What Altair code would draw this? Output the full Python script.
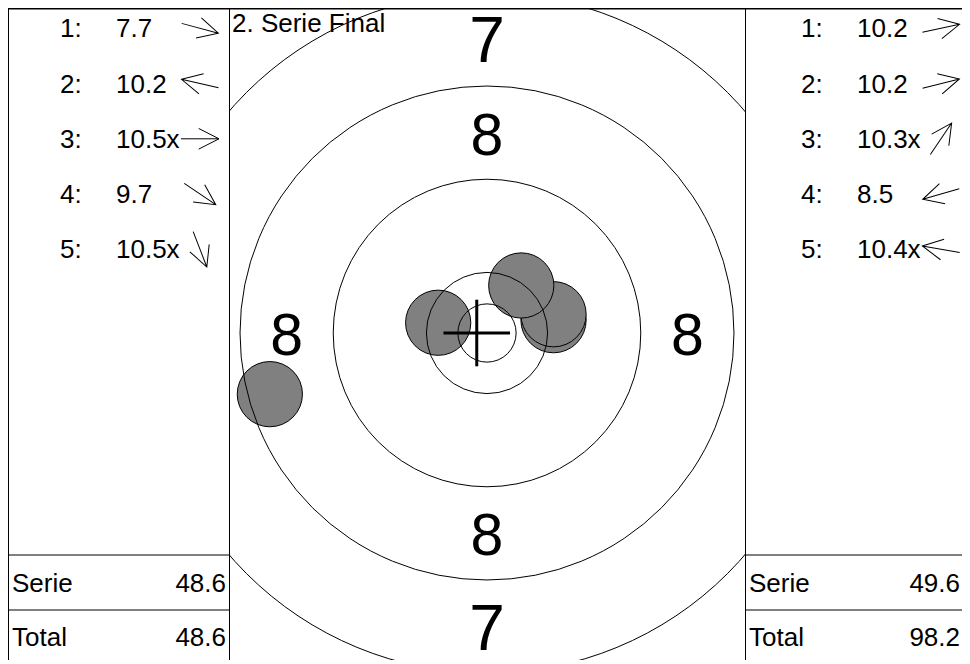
import altair as alt
import pandas as pd

FONT = "Liberation Sans"

# ---------------- data ----------------
shot_no = [1, 2, 3, 4, 5]
s1_scores = ["7.7", "10.2", "10.5x", "9.7", "10.5x"]
s1_dir = [15, 193, 0, 34, 69]           # direction of each shot, degrees clockwise from right
s2_scores = ["10.2", "10.2", "10.3x", "8.5", "10.4x"]
s2_dir = [348, 346, 304, 164, 190]
sum_names = ["Serie", "Total"]
s1_sums = ["48.6", "48.6"]
s2_sums = ["49.6", "98.2"]
# series 2 hits on the target, mm from centre (x right, y up)
s2_x_mm = [5.71, 5.71, 2.94, -18.64, -4.19]
s2_y_mm = [1.10, 1.61, 4.08, -5.25, 0.88]
ring_r_mm = [2.5, 5.2, 13.2, 21.2, 29.2, 37.2]
label_rings = ["8", "7"]
label_r_mm = [17.2, 25.2]
cross_x_mm = [-0.88]
cross_y_mm = [0.0]
title_text = ["2. Serie Final"]
caliber_mm = 5.6

# ---------------- layout ----------------
H = 652
WL, WT, WR = 222, 515, 217
PX = 11.65          # px per mm
CX, CY = 257, 325   # target centre inside the target view (px)
FS = 26
ARROW = "M-1,0L1,0M-0.07,-0.545L1,0L-0.07,0.545"


def panel(scores, dirs, sums, width, lab_x, val_x, arr_x, sum_x, vlines):
    rows = pd.DataFrame({"shot": shot_no, "score": scores, "dir": dirs})
    rows["lab"] = [f"{n}:" for n in shot_no]
    yrow = alt.Y("shot:O", axis=None,
                 scale=alt.Scale(type="point", domain=shot_no, range=[29.3, 250.3], padding=0))
    base = alt.Chart(rows)
    txt = dict(font=FONT, fontSize=FS, color="black", baseline="alphabetic")
    labs = base.mark_text(align="left", **txt).encode(x=alt.value(lab_x), y=yrow, text="lab:N")
    vals = base.mark_text(align="left", **txt).encode(x=alt.value(val_x), y=yrow, text="score:N")
    arrows = base.mark_point(shape=ARROW, filled=False, color="black", strokeWidth=1,
                             opacity=1, size=1444, yOffset=-9, clip=True).encode(
        x=alt.value(arr_x), y=yrow, angle=alt.Angle("dir:Q", scale=None))

    sdf = pd.DataFrame({"name": sum_names, "value": sums})
    ysum = alt.Y("name:N", axis=None,
                 scale=alt.Scale(type="point", domain=sum_names, range=[583.7, 638], padding=0))
    sbase = alt.Chart(sdf)
    snames = sbase.mark_text(align="left", **txt).encode(x=alt.value(4), y=ysum, text="name:N")
    svals = sbase.mark_text(align="right", **txt).encode(x=alt.value(sum_x), y=ysum, text="value:N")

    one = alt.Chart(pd.DataFrame({"k": [0]}))
    lines = []
    for xv in vlines:
        lines.append(one.mark_rule(color="black", strokeWidth=1, clip=True).encode(
            x=alt.value(xv), y=alt.value(0), y2=alt.value(H)))
    lines.append(one.mark_rule(color="black", strokeWidth=1.5, clip=True).encode(
        x=alt.value(0), x2=alt.value(width), y=alt.value(0.75)))
    for yv in [547, 602]:
        lines.append(one.mark_rule(color="black", strokeWidth=1, clip=True).encode(
            x=alt.value(0), x2=alt.value(width), y=alt.value(yv)))

    return alt.layer(*lines, labs, vals, arrows, snames, svals).resolve_scale(
        y="independent").properties(width=width, height=H)


left = panel(s1_scores, s1_dir, s1_sums, WL, 52, 108, 192, 218, [0.5, WL - 0.5])
right = panel(s2_scores, s2_dir, s2_sums, WR, 56, 112, 196, 215, [0.5])

# ---------------- target ----------------
xs = alt.Scale(domain=[-CX / PX, (WT - CX) / PX], nice=False, zero=False)
ys = alt.Scale(domain=[-(H - CY) / PX, CY / PX], nice=False, zero=False)

shots_df = pd.DataFrame({"shot": shot_no, "x": s2_x_mm, "y": s2_y_mm})
shots = alt.Chart(shots_df).transform_calculate(
    sz=f"pow({caliber_mm}*{PX}, 2)"
).mark_point(shape="circle", filled=True, color="#808080", stroke="black",
             strokeWidth=1, opacity=1, clip=True).encode(
    x=alt.X("x:Q", scale=xs, axis=None),
    y=alt.Y("y:Q", scale=ys, axis=None),
    size=alt.Size("sz:Q", scale=None, legend=None),
)

rings = alt.Chart(pd.DataFrame({"r": ring_r_mm})).transform_calculate(
    cx="0", cy="0", sz=f"pow(2*datum.r*{PX}, 2)"
).mark_point(shape="circle", filled=False, color="black", strokeWidth=1,
             opacity=1, clip=True).encode(
    x=alt.X("cx:Q", scale=xs, axis=None),
    y=alt.Y("cy:Q", scale=ys, axis=None),
    size=alt.Size("sz:Q", scale=None, legend=None),
)

lab_rows = []
for v, r in zip(label_rings, label_r_mm):
    for ux, uy in [(0, 1), (1, 0), (0, -1), (-1, 0)]:
        lab_rows.append({"ring": v, "x": ux * r, "y": uy * r})
ring_labels = alt.Chart(pd.DataFrame(lab_rows)).mark_text(
    font=FONT, align="center", baseline="middle", dy=4, color="black", clip=True
).encode(
    x=alt.X("x:Q", scale=xs, axis=None),
    y=alt.Y("y:Q", scale=ys, axis=None),
    text="ring:N",
    size=alt.condition("datum.ring == '7'", alt.value(64), alt.value(59)),
)

L = 33.3 / PX
cross_df = pd.DataFrame({"mx": cross_x_mm, "my": cross_y_mm})
cross_h = alt.Chart(cross_df).transform_calculate(
    xa=f"datum.mx - {L}", xb=f"datum.mx + {L}"
).mark_rule(color="black", strokeWidth=3, clip=True).encode(
    x=alt.X("xa:Q", scale=xs, axis=None), x2="xb:Q",
    y=alt.Y("my:Q", scale=ys, axis=None),
)
cross_v = alt.Chart(cross_df).transform_calculate(
    ya=f"datum.my - {L}", yb=f"datum.my + {L}"
).mark_rule(color="black", strokeWidth=3, clip=True).encode(
    x=alt.X("mx:Q", scale=xs, axis=None),
    y=alt.Y("ya:Q", scale=ys, axis=None), y2="yb:Q",
)

one_t = alt.Chart(pd.DataFrame({"k": [0]}))
top_line = one_t.mark_rule(color="black", strokeWidth=1.5, clip=True).encode(
    x=alt.value(0), x2=alt.value(WT), y=alt.value(0.75))

title = alt.Chart(pd.DataFrame({"t": title_text})).mark_text(
    font=FONT, fontSize=FS, align="left", baseline="alphabetic", color="black"
).encode(x=alt.value(2), y=alt.value(24), text="t:N")

target = alt.layer(shots, rings, cross_h, cross_v, ring_labels, top_line, title).properties(
    width=WT, height=H)

chart = alt.hconcat(left, target, right, spacing=0, bounds="flush").properties(
    padding=0
).configure_view(strokeWidth=0)

chart.save("out.html", embed_options={"renderer": "svg", "actions": False})
